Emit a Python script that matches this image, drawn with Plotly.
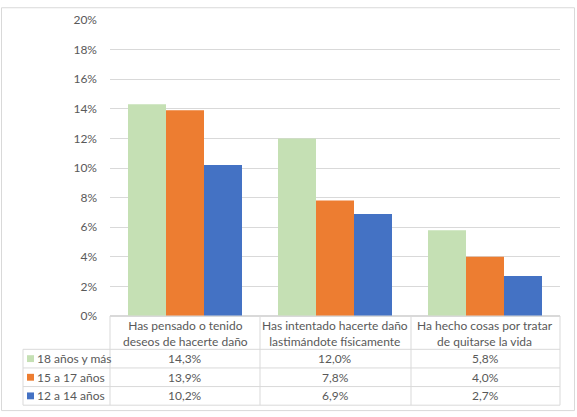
import plotly.graph_objects as go

categories = ["Has pensado o tenido<br>deseos de hacerte daño",
              "Has intentado hacerte daño<br>lastimándote físicamente",
              "Ha hecho cosas por tratar<br>de quitarse la vida"]
series_names = ["18 años y más", "15 a 17 años", "12 a 14 años"]
vals_18mas = [0.143, 0.120, 0.058]
vals_15_17 = [0.139, 0.078, 0.040]
vals_12_14 = [0.102, 0.069, 0.027]
colors = ["#C5E0B4", "#ED7D31", "#4472C4"]
y_ticks = [0, 0.02, 0.04, 0.06, 0.08, 0.10, 0.12, 0.14, 0.16, 0.18, 0.20]

series_vals = [vals_18mas, vals_15_17, vals_12_14]

W, H = 577, 417
L, R, T, B = 110, 17, 14, 101
plot_h = H - T - B
plot_w = W - L - R
FONT = "Lato"
TXT = "#595959"
GRID = "#D9D9D9"

def py(pix):
    """pixel y (from top) to paper y"""
    return (H - B - pix) / plot_h

def px(pix):
    return (pix - L) / plot_w

xs = list(range(len(categories)))
fig = go.Figure()
for name, vals, col in zip(series_names, series_vals, colors):
    fig.add_trace(go.Bar(x=xs, y=vals, name=name, marker=dict(color=col, line=dict(width=0)),
                         showlegend=False))

shapes = []
annotations = []
# table geometry (pixels)
row_tops = [316, 350, 369, 388, 407]
col_edges = [110, 260, 411, 560]
leg_left = 23
line = dict(color=GRID, width=1)
# horizontal lines
shapes.append(dict(type="line", xref="paper", yref="paper", x0=0, x1=1,
                   y0=py(row_tops[0]), y1=py(row_tops[0]), line=line))
for r in row_tops[1:]:
    shapes.append(dict(type="line", xref="paper", yref="paper", x0=px(leg_left), x1=1,
                       y0=py(r), y1=py(r), line=line))
for c in col_edges:
    shapes.append(dict(type="line", xref="paper", yref="paper", x0=px(c), x1=px(c),
                       y0=py(row_tops[0]), y1=py(row_tops[-1]), line=line))
shapes.append(dict(type="line", xref="paper", yref="paper", x0=px(leg_left), x1=px(leg_left),
                   y0=py(row_tops[1]), y1=py(row_tops[-1]), line=line))
# outer chart border
shapes.append(dict(type="rect", xref="paper", yref="paper", x0=px(1.5), x1=px(574.5),
                   y0=py(412.5), y1=py(1.5), line=dict(color=GRID, width=1)))

# category header
for i, cat in enumerate(categories):
    annotations.append(dict(x=i, xref="x", y=py((row_tops[0] + row_tops[1]) / 2 + 1), yref="paper",
                            text=cat, showarrow=False, align="center",
                            font=dict(family=FONT, size=12, color=TXT), yanchor="middle"))
# rows
for r, (name, vals, col) in enumerate(zip(series_names, series_vals, colors)):
    yc = py((row_tops[r + 1] + row_tops[r + 2]) / 2)
    # legend key
    shapes.append(dict(type="rect", xref="paper", yref="paper", x0=px(27), x1=px(34),
                       y0=yc - 3.5 / plot_h, y1=yc + 3.5 / plot_h, fillcolor=col, line=dict(width=0)))
    annotations.append(dict(x=px(35), xref="paper", y=yc, yref="paper", text=name, showarrow=False,
                            xanchor="left", yanchor="middle", font=dict(family=FONT, size=12, color=TXT)))
    for i, v in enumerate(vals):
        annotations.append(dict(x=i, xref="x", y=yc, yref="paper",
                                text=f"{v*100:.1f}%".replace(".", ","), showarrow=False,
                                yanchor="middle", font=dict(family=FONT, size=12, color=TXT)))

fig.update_layout(
    width=W, height=H,
    margin=dict(l=L, r=R, t=T, b=B),
    paper_bgcolor="white", plot_bgcolor="white",
    barmode="group", bargap=0.24, bargroupgap=0,
    xaxis=dict(range=[-0.5, 2.5], showticklabels=False, showgrid=False, zeroline=False,
               showline=False, fixedrange=True),
    yaxis=dict(range=[0, 0.20], tickvals=y_ticks, tickformat=".0%", gridcolor=GRID, gridwidth=1,
               zeroline=True, zerolinecolor=GRID, showline=False, ticks="",
               ticklabelstandoff=12,
               tickfont=dict(family=FONT, size=12, color=TXT)),
    shapes=shapes, annotations=annotations,
)
fig.write_html("out.html", config={"displayModeBar": False})
with open("out.html", encoding="utf-8") as f:
    html = f.read()
html = html.replace("<body>", '<body style="margin:0;padding:0;overflow:hidden">', 1)
with open("out.html", "w", encoding="utf-8") as f:
    f.write(html)
